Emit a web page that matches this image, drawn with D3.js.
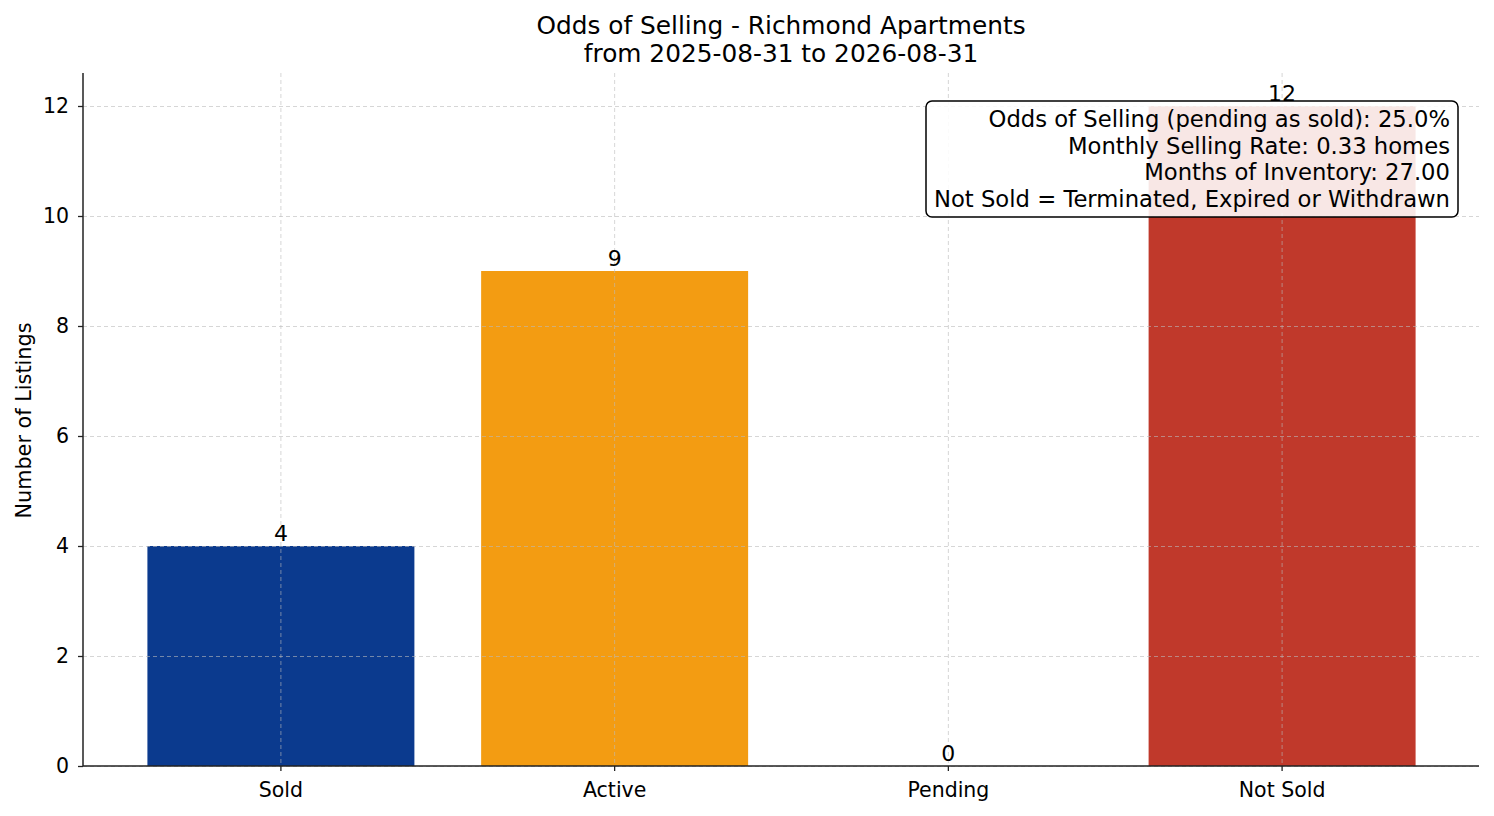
<!DOCTYPE html>
<html>
<head>
<meta charset="utf-8">
<script src="https://cdn.jsdelivr.net/npm/d3@7"></script>
<style>
    body { margin: 0; background: #fff; }
    svg text { font-family: "DejaVu Sans", sans-serif; fill: #000; }
    .grid line { stroke: #bbb; stroke-opacity: 0.6; stroke-dasharray: 4, 3; }
    .grid path { display: none; }
    .axis path, .axis line { stroke: #222; }
</style>
</head>
<body>
<svg id="chart" width="1494" height="816"></svg>
<script>
// Data
const categories = ["Sold", "Active", "Pending", "Not Sold"];
const counts = [4, 9, 0, 12];
const barColors = ["#0b3a8e", "#f39c12", "#7f8c8d", "#c0392b"];
const yTicks = [0, 2, 4, 6, 8, 10, 12];
const titleLines = ["Odds of Selling - Richmond Apartments", "from 2025-08-31 to 2026-08-31"];
const noteLines = [
    "Odds of Selling (pending as sold): 25.0%",
    "Monthly Selling Rate: 0.33 homes",
    "Months of Inventory: 27.00",
    "Not Sold = Terminated, Expired or Withdrawn"
];

const svg = d3.select('#chart');

const plotLeft = 83, plotRight = 1479, plotTop = 73, plotBottom = 766;

const xScale = d3.scaleBand()
    .domain(categories)
    .range([plotLeft + 1, plotRight])
    .paddingInner(0.2)
    .paddingOuter(0.19);

const yScale = d3.scaleLinear()
    .domain([0, d3.max(counts) * 1.05])
    .range([plotBottom, plotTop]);

// bars
svg.append('g')
    .selectAll('rect')
    .data(counts)
    .enter()
    .append('rect')
    .attr('x', (d, i) => xScale(categories[i]))
    .attr('y', (d) => yScale(d))
    .attr('width', xScale.bandwidth())
    .attr('height', (d) => yScale(0) - yScale(d))
    .attr('fill', (d, i) => barColors[i]);

// grid lines (drawn over the bars like the original)
svg.append('g')
    .attr('class', 'grid')
    .attr('transform', `translate(${plotLeft}, 0)`)
    .call(d3.axisLeft(yScale).tickValues(yTicks).tickSize(-(plotRight - plotLeft)).tickFormat(''));

svg.append('g')
    .attr('class', 'grid')
    .attr('transform', `translate(0, ${plotTop})`)
    .call(d3.axisBottom(xScale).tickSize(plotBottom - plotTop).tickFormat(''));

// axes
const yAxis = svg.append('g')
    .attr('class', 'axis')
    .attr('transform', `translate(${plotLeft}, 0)`)
    .call(d3.axisLeft(yScale).tickValues(yTicks).tickSize(5).tickPadding(9));

const xAxis = svg.append('g')
    .attr('class', 'axis')
    .attr('transform', `translate(0, ${plotBottom})`)
    .call(d3.axisBottom(xScale).tickSize(5).tickPadding(11));

[yAxis, xAxis].forEach((g) => {
    g.select('.domain').attr('stroke-width', 1.5);
    g.selectAll('.tick line').attr('stroke-width', 1.3);
    g.selectAll('.tick text').attr('font-size', 20.5).attr('font-family', '"DejaVu Sans", sans-serif').attr('fill', '#000');
});
// matplotlib spines have no end caps
yAxis.select('.domain').attr('d', `M0,${plotTop}V${plotBottom}`);
xAxis.select('.domain').attr('d', `M${plotLeft},0H${plotRight}`);

// value labels
svg.append('g')
    .selectAll('text')
    .data(counts)
    .enter()
    .append('text')
    .attr('x', (d, i) => xScale(categories[i]) + xScale.bandwidth() / 2)
    .attr('y', (d) => yScale(d) - 5)
    .attr('text-anchor', 'middle')
    .attr('font-size', 22)
    .text((d) => `${d}`);

// axis label
svg.append('text')
    .attr('transform', `translate(31, ${(plotTop + plotBottom) / 2 + 1}) rotate(-90)`)
    .attr('text-anchor', 'middle')
    .attr('font-size', 20.8)
    .text('Number of Listings');

// title
svg.append('text')
    .attr('x', (plotLeft + plotRight) / 2)
    .attr('y', 34)
    .attr('text-anchor', 'middle')
    .attr('font-size', 24.8)
    .selectAll('tspan')
    .data(titleLines)
    .enter()
    .append('tspan')
    .attr('x', (plotLeft + plotRight) / 2)
    .attr('dy', (d, i) => i === 0 ? 0 : 28)
    .text((d) => d);

// note box
const note = svg.append('g');
const noteRight = 1450;
const noteText = note.append('text')
    .attr('text-anchor', 'end')
    .attr('font-size', 22.7);
noteText.selectAll('tspan')
    .data(noteLines)
    .enter()
    .append('tspan')
    .attr('x', noteRight)
    .attr('y', (d, i) => 127 + i * 26.6)
    .text((d) => d);

const bb = noteText.node().getBBox();
note.insert('rect', 'text')
    .attr('x', bb.x - 8)
    .attr('y', 101)
    .attr('width', bb.width + 16)
    .attr('height', 116)
    .attr('rx', 6)
    .attr('fill', '#fff')
    .attr('fill-opacity', 0.88)
    .attr('stroke', '#000')
    .attr('stroke-width', 1.5);
</script>
</body>
</html>
